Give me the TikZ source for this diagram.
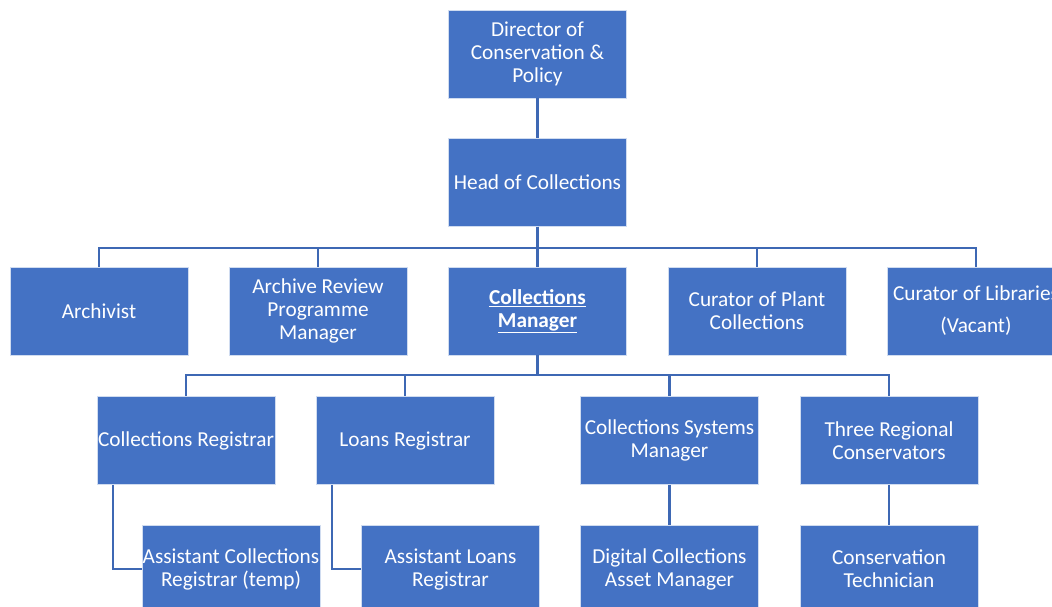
\documentclass[tikz,border=0pt]{standalone}
\usepackage{fontspec}
\setmainfont{Carlito}
\definecolor{boxblue}{HTML}{4472C4}
\definecolor{linkblue}{HTML}{3E68B4}
\tikzset{
	post/.style={fill=boxblue, draw=white!75!boxblue, line width=0.6pt, text=white,
		minimum width=178pt, minimum height=88pt, inner sep=0pt, align=center,
		font=\fontsize{21.3}{23}\selectfont},
	link/.style={draw=linkblue, line width=2.2pt}
}
\begin{document}
\begin{tikzpicture}[x=1pt, y=-1pt]
	\useasboundingbox (0,0) rectangle (1052,607);
	\clip (0,0) rectangle (1052,607);

	% top of the tree
	\draw (537.5,  54) node[post] (director) {Director of\\Conservation \&\\Policy};
	\draw (537.5, 182.5) node[post] (head) {Head of Collections};

	% reports to head of collections
	\draw ( 99, 311) node[post] (archivist) {Archivist};
	\draw (318, 311) node[post] (review) {Archive Review\\Programme\\Manager};
	\draw (537.5, 311) node[post] (manager) {\textbf{\underline{Collections}}\\\textbf{\underline{Manager}}};
	\draw (757, 311) node[post] (plant) {Curator of Plant\\Collections};
	\draw (976, 311) node[post] (libraries) {Curator of Libraries\\[9pt](Vacant)};

	% reports to collections manager
	\draw (186, 440.5) node[post] (colreg) {Collections Registrar};
	\draw (405, 440.5) node[post] (loanreg) {Loans Registrar};
	\draw (669.5, 440.5) node[post] (sysmgr) {Collections Systems\\Manager};
	\draw (889, 440.5) node[post] (regional) {Three Regional\\Conservators};

	\draw (231, 569) node[post] (asscolreg) {Assistant Collections\\Registrar (temp)};
	\draw (450.5, 569) node[post] (assloan) {Assistant Loans\\Registrar};
	\draw (669.5, 569) node[post] (digital) {Digital Collections\\Asset Manager};
	\draw (889, 569) node[post] (technician) {Conservation\\Technician};

	% connectors
	\draw[link] (director) -- (head);
	\foreach \n in {archivist, review, manager, plant, libraries}
		\draw[link] (head.south) -- ++(0,21.5) -| (\n.north);
	\foreach \n in {colreg, loanreg, sysmgr, regional}
		\draw[link] (manager.south) -- ++(0,20) -| (\n.north);
	\draw[link] ([xshift=16pt]colreg.south west) |- (asscolreg.west);
	\draw[link] ([xshift=16pt]loanreg.south west) |- (assloan.west);
	\draw[link] (sysmgr) -- (digital);
	\draw[link] (regional) -- (technician);
\end{tikzpicture}
\end{document}
